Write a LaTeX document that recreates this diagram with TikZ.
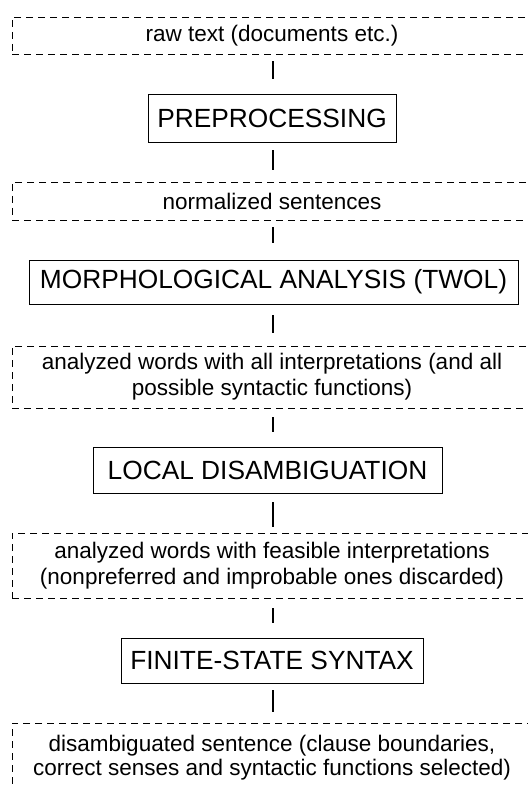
\documentclass[tikz,border=0pt]{standalone}
\usepackage{fontspec}
\setmainfont{Liberation Sans}
\begin{document}
\begin{tikzpicture}[x=1pt,y=-1pt,
  stage/.style={draw, line width=0.9pt, inner sep=0pt, font=\fontsize{26.3}{30}\selectfont},
  data/.style={draw, line width=0.9pt, dash pattern=on 7pt off 5pt, inner sep=0pt,
    minimum width=520pt, align=center, font=\fontsize{22.5}{26}\selectfont},
  datatext/.style={inner sep=0pt, align=center, font=\fontsize{22.5}{24}\selectfont},
  conn/.style={line width=1.5pt}]
\useasboundingbox (0,0) rectangle (527,786);
\fill[white] (0,0) rectangle (527,786);
\coordinate (axis) at (273,0);

\node[data, minimum height=37pt] (b1) at (272,35.5) {raw text (documents etc.)};
\node[stage, minimum width=248pt, minimum height=48pt] (p1) at (272,118) {PREPROCESSING};
\node[data, minimum height=38pt] (b2) at (272,201) {normalized sentences};
\node[stage, minimum width=489pt, minimum height=44pt] (m1) at (273.5,282) {MORPHOLOGICAL ANALYSIS (TWOL)};
\node[data, minimum height=62pt] (b3) at (272,377) {analyzed words with all interpretations (and all\\possible syntactic functions)};
\node[stage, minimum width=349pt, minimum height=46pt] (l1) at (267.5,470) {LOCAL DISAMBIGUATION};
\node[data, minimum height=65pt] (b4) at (272,565.5) {analyzed words with feasible interpretations\\(nonpreferred and improbable ones discarded)};
\node[stage, minimum width=302pt, minimum height=45pt] (f1) at (272,660.5) {FINITE-STATE SYNTAX};
\node[data, minimum height=130pt,
  label={[datatext, anchor=north, yshift=-12pt]north:{disambiguated sentence (clause boundaries,\\correct senses and syntactic functions selected)}}]
  (b5) at (272,788) {};

\draw[conn, shorten <=7pt, shorten >=15pt] (b1.south -| axis) -- (p1.north -| axis);
\draw[conn, shorten <=8pt, shorten >=12pt] (p1.south -| axis) -- (b2.north -| axis);
\draw[conn, shorten <=7pt, shorten >=17pt] (b2.south -| axis) -- (m1.north -| axis);
\draw[conn, shorten <=11pt, shorten >=13pt] (m1.south -| axis) -- (b3.north -| axis);
\draw[conn, shorten <=9pt, shorten >=15pt] (b3.south -| axis) -- (l1.north -| axis);
\draw[conn, shorten <=9pt, shorten >=6pt] (l1.south -| axis) -- (b4.north -| axis);
\draw[conn, shorten <=10pt, shorten >=15pt] (b4.south -| axis) -- (f1.north -| axis);
\draw[conn, shorten <=7pt, shorten >=11pt] (f1.south -| axis) -- (b5.north -| axis);
\end{tikzpicture}
\end{document}
